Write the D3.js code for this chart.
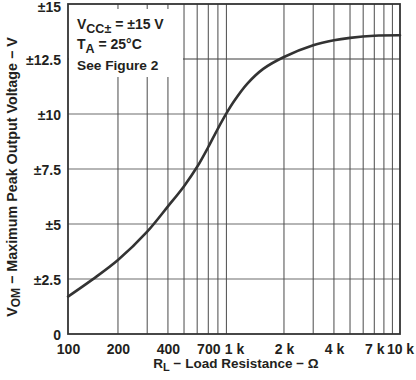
<!DOCTYPE html>
<html>
<head>
<meta charset="utf-8">
<script src="https://cdn.jsdelivr.net/npm/d3@7"></script>
<style>
  html, body { margin: 0; padding: 0; background: #fff; }
  svg text { font-family: "Liberation Sans", Arial, Helvetica, sans-serif; font-weight: bold; fill: #231f20; }
</style>
</head>
<body>
<svg id="chart" width="416" height="380"></svg>
<script>
// ---- data ----
const resistance = [100, 140, 200, 300, 400, 500, 600, 700, 800, 900, 1000, 1200, 1500, 2000, 3000, 4000, 5000, 7000, 10000];
const vom        = [1.70, 2.47, 3.36, 4.65, 5.80, 6.72, 7.60, 8.50, 9.34, 10.03, 10.58, 11.37, 12.05, 12.59, 13.12, 13.35, 13.46, 13.56, 13.58];
const xTickValues = [100, 200, 400, 700, 1000, 2000, 4000, 7000, 10000];
const xTickLabels = ["100", "200", "400", "700", "1 k", "2 k", "4 k", "7 k", "10 k"];
const xGridValues = [200, 300, 400, 500, 600, 700, 800, 900, 2000, 3000, 4000, 5000, 6000, 7000, 8000, 9000];
const yTickValues = [0, 2.5, 5, 7.5, 10, 12.5, 15];
const yTickLabels = ["0", "±2.5", "±5", "±7.5", "±10", "±12.5", "±15"];
const yGridValues = [2.5, 5, 7.5, 10, 12.5];

// ---- layout ----
const svg = d3.select("#chart");
const pLeft = 68, pRight = 400, pTop = 4, pBottom = 334;
const x = d3.scaleLog().domain([100, 10000]).range([pLeft, pRight]);
const y = d3.scaleLinear().domain([0, 15]).range([pBottom, pTop]);

// horizontal grid
svg.append("g").selectAll("line").data(yGridValues).join("line")
  .attr("x1", pLeft).attr("x2", pRight)
  .attr("y1", d => y(d)).attr("y2", d => y(d))
  .attr("stroke", d => d === 12.5 ? "#3a3a3a" : "#9d9d9d")
  .attr("stroke-width", d => d === 12.5 ? 1 : 1.4);

// vertical grid
svg.append("g").selectAll("line").data(xGridValues).join("line")
  .attr("x1", d => x(d)).attr("x2", d => x(d))
  .attr("y1", pTop).attr("y2", pBottom)
  .attr("stroke", "#4a4a4a")
  .attr("stroke-width", 1);

// annotation box (white background over grid)
svg.append("rect")
  .attr("x", pLeft + 1).attr("y", 9)
  .attr("width", 114).attr("height", 68)
  .attr("fill", "#fff");

// curve
const line = d3.line()
  .x((d, i) => x(resistance[i]))
  .y(d => y(d))
  .curve(d3.curveCatmullRom.alpha(0.5));
svg.append("path")
  .datum(vom)
  .attr("d", line)
  .attr("fill", "none")
  .attr("stroke", "#333")
  .attr("stroke-width", 2.6)
  .attr("stroke-linecap", "round");

// frame
svg.append("rect")
  .attr("x", pLeft).attr("y", pTop)
  .attr("width", pRight - pLeft).attr("height", pBottom - pTop)
  .attr("fill", "none").attr("stroke", "#333").attr("stroke-width", 1.8);

// x axis
const xAxis = d3.axisBottom(x)
  .tickValues(xTickValues)
  .tickFormat((d, i) => xTickLabels[i])
  .tickSize(0).tickPadding(0);
const gx = svg.append("g").attr("transform", `translate(0,${pBottom})`).call(xAxis);
gx.select(".domain").remove();
gx.selectAll("text")
  .attr("dy", null).attr("y", 20)
  .style("font-size", "14px")
  .style("font-family", "'Liberation Sans', Arial, sans-serif")
  .style("font-weight", "bold")
  .attr("fill", "#231f20");

// y axis
const yAxis = d3.axisLeft(y)
  .tickValues(yTickValues)
  .tickFormat((d, i) => yTickLabels[i])
  .tickSize(0).tickPadding(0);
const gy = svg.append("g").attr("transform", `translate(${pLeft - 7},0)`).call(yAxis);
gy.select(".domain").remove();
gy.selectAll("text")
  .attr("dy", d => d === 15 ? "0.5em" : "0.36em")
  .style("font-size", "14px")
  .style("font-family", "'Liberation Sans', Arial, sans-serif")
  .style("font-weight", "bold")
  .attr("fill", "#231f20");

// x label
const xl = svg.append("text")
  .attr("x", 236).attr("y", 368)
  .attr("text-anchor", "middle")
  .style("font-size", "13.5px");
xl.append("tspan").text("R");
xl.append("tspan").attr("dy", 3).style("font-size", "11px").text("L");
xl.append("tspan").attr("dy", -3).text(" − Load Resistance − Ω");

// y label
const yl = svg.append("text")
  .attr("transform", `translate(17,177) rotate(-90)`)
  .attr("text-anchor", "middle")
  .style("font-size", "14.3px");
yl.append("tspan").text("V");
yl.append("tspan").attr("dy", 3).style("font-size", "12px").text("OM");
yl.append("tspan").attr("dy", -3).text(" − Maximum Peak Output Voltage − V");

// annotations
const a1 = svg.append("text").attr("x", 77).attr("y", 29).style("font-size", "14px");
a1.append("tspan").text("V");
a1.append("tspan").attr("dy", 4).style("font-size", "12.5px").text("CC±");
a1.append("tspan").attr("dy", -4).text(" = ±15 V");

const a2 = svg.append("text").attr("x", 77).attr("y", 49).style("font-size", "14px");
a2.append("tspan").text("T");
a2.append("tspan").attr("dy", 4).style("font-size", "12.5px").text("A");
a2.append("tspan").attr("dy", -4).text(" = 25°C");

svg.append("text").attr("x", 77).attr("y", 70).style("font-size", "13.7px").text("See Figure 2");
</script>
</body>
</html>
